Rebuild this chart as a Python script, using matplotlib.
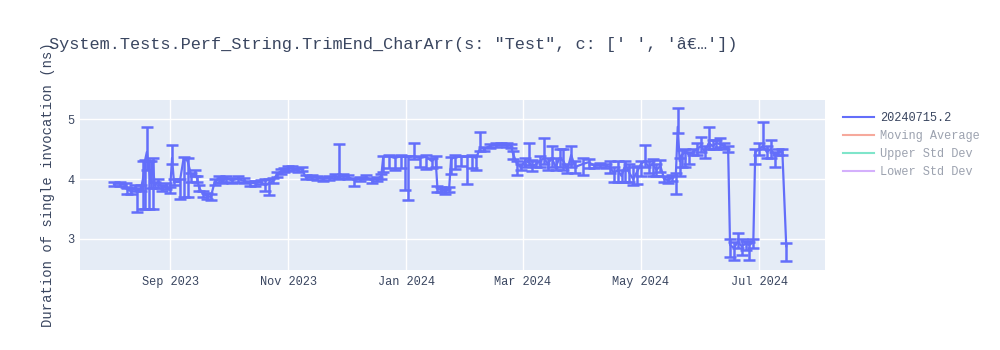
import matplotlib
matplotlib.use('Agg')
import matplotlib.pyplot as plt
import matplotlib.dates as mdates
from matplotlib.lines import Line2D
import numpy as np
import pandas as pd

# benchmark run 20240715.2, duration in ns
dates = [
    "2023-08-03", "2023-08-06", "2023-08-09", "2023-08-10", "2023-08-12", "2023-08-14", "2023-08-15", "2023-08-17",
    "2023-08-18", "2023-08-19", "2023-08-20", "2023-08-21", "2023-08-22", "2023-08-23", "2023-08-24", "2023-08-26",
    "2023-08-28", "2023-08-30", "2023-09-01", "2023-09-02", "2023-09-03", "2023-09-06", "2023-09-08", "2023-09-10",
    "2023-09-12", "2023-09-14", "2023-09-15", "2023-09-16", "2023-09-18", "2023-09-20", "2023-09-22", "2023-09-24",
    "2023-09-26", "2023-09-28", "2023-09-30", "2023-10-03", "2023-10-06", "2023-10-09", "2023-10-12", "2023-10-15",
    "2023-10-18", "2023-10-20", "2023-10-22", "2023-10-24", "2023-10-26", "2023-10-28", "2023-10-30", "2023-11-01",
    "2023-11-03", "2023-11-06", "2023-11-08", "2023-11-10", "2023-11-13", "2023-11-16", "2023-11-19", "2023-11-22",
    "2023-11-25", "2023-11-27", "2023-11-29", "2023-12-02", "2023-12-05", "2023-12-08", "2023-12-11", "2023-12-14",
    "2023-12-17", "2023-12-19", "2023-12-20", "2023-12-23", "2023-12-26", "2023-12-29", "2023-12-31", "2024-01-02",
    "2024-01-05", "2024-01-08", "2024-01-11", "2024-01-14", "2024-01-16", "2024-01-17", "2024-01-19", "2024-01-21",
    "2024-01-23", "2024-01-24", "2024-01-26", "2024-01-29", "2024-02-01", "2024-02-04", "2024-02-06", "2024-02-08",
    "2024-02-10", "2024-02-13", "2024-02-16", "2024-02-19", "2024-02-22", "2024-02-24", "2024-02-25", "2024-02-27",
    "2024-02-29", "2024-03-02", "2024-03-04", "2024-03-06", "2024-03-08", "2024-03-10", "2024-03-12", "2024-03-14",
    "2024-03-16", "2024-03-18", "2024-03-20", "2024-03-22", "2024-03-24", "2024-03-26", "2024-03-28", "2024-04-01",
    "2024-04-04", "2024-04-07", "2024-04-10", "2024-04-13", "2024-04-15", "2024-04-17", "2024-04-19", "2024-04-21",
    "2024-04-23", "2024-04-25", "2024-04-27", "2024-04-29", "2024-05-01", "2024-05-03", "2024-05-05", "2024-05-07",
    "2024-05-09", "2024-05-11", "2024-05-13", "2024-05-15", "2024-05-17", "2024-05-19", "2024-05-20", "2024-05-21",
    "2024-05-22", "2024-05-24", "2024-05-26", "2024-05-28", "2024-05-30", "2024-06-01", "2024-06-03", "2024-06-05",
    "2024-06-07", "2024-06-09", "2024-06-11", "2024-06-13", "2024-06-15", "2024-06-16", "2024-06-18", "2024-06-20",
    "2024-06-22", "2024-06-24", "2024-06-26", "2024-06-28", "2024-06-29", "2024-07-01", "2024-07-03", "2024-07-05",
    "2024-07-07", "2024-07-09", "2024-07-11", "2024-07-13", "2024-07-15"]

durations = [
    3.92, 3.92, 3.90, 3.82, 3.80, 3.85, 3.80, 3.85,
    4.00, 4.30, 4.45, 4.20, 3.95, 4.30, 3.90, 3.95,
    3.85, 3.88, 3.82, 4.35, 3.95, 3.95, 4.35, 4.30,
    4.05, 4.10, 4.00, 3.85, 3.75, 3.72, 3.70, 3.95,
    4.00, 3.97, 4.00, 3.98, 4.00, 3.97, 3.93, 3.93,
    3.95, 3.90, 3.92, 3.97, 4.07, 4.12, 4.15, 4.17,
    4.18, 4.15, 4.17, 4.03, 4.03, 4.02, 4.00, 4.02,
    4.05, 4.03, 4.05, 4.03, 3.98, 4.00, 4.03, 3.98,
    4.00, 4.05, 4.37, 4.38, 4.35, 4.38, 4.37, 4.37,
    4.38, 4.35, 4.37, 4.30, 4.35, 3.83, 3.82, 3.80,
    3.83, 4.33, 4.37, 4.37, 4.37, 4.38, 4.35, 4.52,
    4.50, 4.55, 4.57, 4.58, 4.57, 4.55, 4.42, 4.25,
    4.20, 4.30, 4.28, 4.22, 4.25, 4.30, 4.35, 4.25,
    4.35, 4.20, 4.35, 4.30, 4.15, 4.40, 4.20, 4.25,
    4.28, 4.22, 4.23, 4.22, 4.20, 4.10, 4.15, 4.05,
    4.25, 4.10, 4.00, 4.12, 4.25, 4.30, 4.20, 4.25,
    4.15, 4.22, 4.00, 3.98, 4.02, 4.05, 4.87, 4.30,
    4.40, 4.45, 4.40, 4.45, 4.50, 4.55, 4.45, 4.60,
    4.55, 4.60, 4.58, 4.55, 4.50, 2.90, 2.85, 2.95,
    2.88, 2.92, 2.90, 2.95, 4.45, 4.50, 4.55, 4.45,
    4.50, 4.40, 4.45, 4.45, 2.88]

err_up = [
    0.03, 0.03, 0.03, 0.03, 0.05, 0.05, 0.05, 0.05,
    0.30, 0.02, 0.42, 0.10, 0.35, 0.05, 0.05, 0.05,
    0.05, 0.05, 0.05, 0.22, 0.05, 0.05, 0.02, 0.05,
    0.05, 0.05, 0.05, 0.05, 0.05, 0.05, 0.05, 0.05,
    0.05, 0.04, 0.05, 0.04, 0.05, 0.04, 0.04, 0.04,
    0.04, 0.10, 0.08, 0.04, 0.04, 0.04, 0.04, 0.04,
    0.03, 0.03, 0.03, 0.03, 0.03, 0.03, 0.03, 0.03,
    0.03, 0.55, 0.03, 0.03, 0.03, 0.03, 0.03, 0.03,
    0.03, 0.03, 0.02, 0.02, 0.03, 0.02, 0.02, 0.02,
    0.22, 0.03, 0.03, 0.05, 0.03, 0.05, 0.04, 0.03,
    0.04, 0.03, 0.03, 0.02, 0.02, 0.02, 0.03, 0.26,
    0.04, 0.03, 0.03, 0.02, 0.03, 0.03, 0.05, 0.05,
    0.05, 0.05, 0.32, 0.10, 0.05, 0.08, 0.33, 0.10,
    0.20, 0.15, 0.15, 0.20, 0.10, 0.15, 0.10, 0.10,
    0.05, 0.03, 0.03, 0.03, 0.10, 0.10, 0.15, 0.10,
    0.05, 0.15, 0.20, 0.10, 0.05, 0.27, 0.10, 0.08,
    0.10, 0.10, 0.05, 0.05, 0.05, 0.05, 0.31, 0.05,
    0.08, 0.05, 0.05, 0.05, 0.10, 0.15, 0.10, 0.27,
    0.10, 0.05, 0.10, 0.05, 0.05, 0.10, 0.10, 0.15,
    0.12, 0.05, 0.05, 0.05, 0.05, 0.10, 0.40, 0.10,
    0.15, 0.05, 0.05, 0.05, 0.05]

err_down = [
    0.03, 0.03, 0.03, 0.07, 0.05, 0.05, 0.35, 0.05,
    0.50, 0.80, 0.30, 0.70, 0.10, 0.80, 0.05, 0.10,
    0.05, 0.05, 0.05, 0.10, 0.05, 0.28, 0.65, 0.60,
    0.10, 0.05, 0.05, 0.05, 0.05, 0.05, 0.05, 0.05,
    0.05, 0.04, 0.05, 0.04, 0.05, 0.04, 0.04, 0.04,
    0.04, 0.10, 0.18, 0.04, 0.04, 0.04, 0.04, 0.04,
    0.03, 0.03, 0.03, 0.03, 0.03, 0.03, 0.03, 0.03,
    0.03, 0.03, 0.03, 0.03, 0.10, 0.03, 0.03, 0.05,
    0.03, 0.05, 0.25, 0.20, 0.20, 0.20, 0.55, 0.72,
    0.05, 0.15, 0.20, 0.12, 0.15, 0.05, 0.04, 0.05,
    0.04, 0.25, 0.20, 0.15, 0.45, 0.20, 0.20, 0.05,
    0.04, 0.03, 0.03, 0.02, 0.03, 0.03, 0.08, 0.18,
    0.05, 0.10, 0.05, 0.08, 0.05, 0.10, 0.10, 0.10,
    0.15, 0.05, 0.15, 0.15, 0.05, 0.20, 0.10, 0.18,
    0.10, 0.03, 0.03, 0.03, 0.10, 0.15, 0.20, 0.10,
    0.30, 0.15, 0.10, 0.20, 0.20, 0.10, 0.10, 0.20,
    0.10, 0.10, 0.05, 0.05, 0.05, 0.30, 0.10, 0.25,
    0.20, 0.25, 0.15, 0.05, 0.10, 0.10, 0.10, 0.10,
    0.05, 0.10, 0.05, 0.05, 0.05, 0.20, 0.20, 0.10,
    0.15, 0.10, 0.25, 0.10, 0.20, 0.10, 0.05, 0.10,
    0.15, 0.20, 0.05, 0.05, 0.25]

title = "System.Tests.Perf_String.TrimEnd_CharArr(s: \"Test\", c: [' ', 'â€…'])"
legend_labels = ['20240715.2', 'Moving Average', 'Upper Std Dev', 'Lower Std Dev']
legend_colors = ['#636efa', '#EF553B', '#00cc96', '#ab63fa']

font = 'Liberation Mono'
txt = '#3a4660'
plt.rcParams['font.family'] = font

x = pd.to_datetime(dates)
fig = plt.figure(figsize=(10, 3.5), dpi=100)
ax = fig.add_axes([0.08, 1 - 270 / 350, 0.745, 170 / 350])
ax.set_facecolor('#E5ECF6')
ax.errorbar(x, durations, yerr=[err_down, err_up], color='#636efa', lw=1.6,
            elinewidth=1.8, capsize=4, capthick=1.8, zorder=3)

ax.set_xlim(pd.Timestamp('2023-07-16 12:00'), pd.Timestamp('2024-08-04'))
ax.set_ylim(2.483, 5.317)
ax.set_yticks([3, 4, 5])
ax.xaxis.set_major_locator(mdates.MonthLocator(bymonth=[1, 3, 5, 7, 9, 11]))
ax.xaxis.set_major_formatter(mdates.DateFormatter('%b %Y'))
ax.grid(True, color='white', lw=1, zorder=0)
ax.set_axisbelow(True)
for s in ax.spines.values():
    s.set_visible(False)
ax.tick_params(length=0, labelsize=8.6, colors=txt, pad=4)

fig.text(0.049, 1 - 45 / 350, title, fontsize=12.2, color=txt, va='center', ha='left')
fig.text(0.048, 1 - 185 / 350, 'Duration of single invocation (ns)', rotation=90,
         fontsize=10, color=txt, va='center', ha='center')

handles = [Line2D([], [], color=c, lw=1.5) for c in legend_colors]
leg = fig.legend(handles, legend_labels, loc='upper left', bbox_to_anchor=(0.843, 1 - 112 / 350),
                 frameon=False, fontsize=8.6, handlelength=2.6, handletextpad=0.5,
                 labelspacing=0.5, borderpad=0, borderaxespad=0)
for i, (h, t) in enumerate(zip(leg.get_lines(), leg.get_texts())):
    t.set_color(txt)
    if i > 0:
        h.set_alpha(0.5)
        t.set_alpha(0.5)

fig.savefig('out.png', dpi=100)
